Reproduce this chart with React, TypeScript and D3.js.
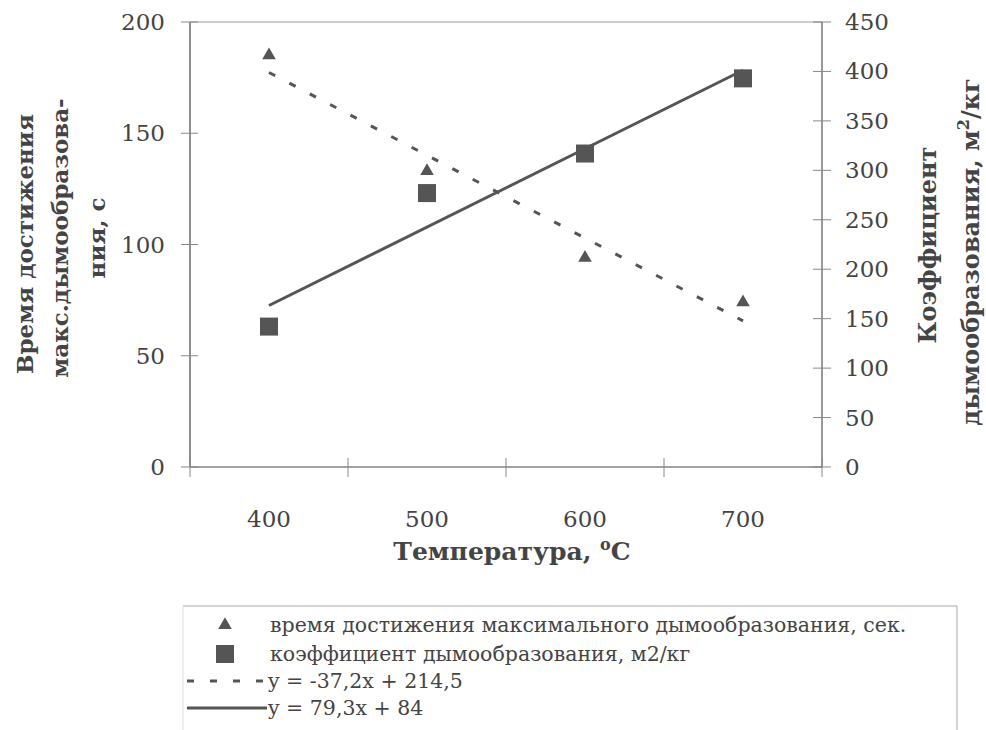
import React from "react";
import * as d3 from "d3";

const categories = ["400", "500", "600", "700"];
const timeValues = [185, 133, 94, 74];
const coefValues = [142, 277, 317, 393];
const leftTicks = [0, 50, 100, 150, 200];
const rightTicks = [0, 50, 100, 150, 200, 250, 300, 350, 400, 450];
const timeTrend = { slope: -37.2, intercept: 214.5 };
const coefTrend = { slope: 79.3, intercept: 84 };
const legendLabels = [
  "время достижения максимального дымообразования, сек.",
  "коэффициент дымообразования, м2/кг",
  "y = -37,2x + 214,5",
  "y = 79,3x + 84",
];

const W = 986;
const H = 730;
const plot = { left: 190, right: 822, top: 22, bottom: 467 };
const FONT = "'DejaVu Serif', 'Liberation Serif', serif";
const MARK = "#555";
const TXT = "#444";

export default function App() {
  const x = d3.scaleBand<string>().domain(categories).range([plot.left, plot.right]).padding(0);
  const yL = d3.scaleLinear().domain([0, 200]).range([plot.bottom, plot.top]);
  const yR = d3.scaleLinear().domain([0, 450]).range([plot.bottom, plot.top]);
  const cx = (c: string) => (x(c) as number) + x.bandwidth() / 2;

  const line = d3.line<[number, number]>().x((d) => d[0]).y((d) => d[1]);
  const timeTrendPts: [number, number][] = [
    [cx(categories[0]), yL(timeTrend.slope * 1 + timeTrend.intercept)],
    [cx(categories[3]), yL(timeTrend.slope * 4 + timeTrend.intercept)],
  ];
  const coefTrendPts: [number, number][] = [
    [cx(categories[0]), yR(coefTrend.slope * 1 + coefTrend.intercept)],
    [cx(categories[3]), yR(coefTrend.slope * 4 + coefTrend.intercept)],
  ];
  const tri = d3.symbol().type(d3.symbolTriangle).size(80)();
  const boundaries = [...categories.map((c) => x(c) as number), plot.right];

  const lg = { x: 183, y: 606, right: 957 };
  const rowY = [625, 654, 681, 708];
  const ff = { fontFamily: FONT };

  return (
    <svg width={W} height={H} style={{ position: "absolute", left: 0, top: 0, background: "#fff", fontFamily: FONT }}>
      <rect x={0} y={0} width={W} height={H} fill="#fff" />
      <line x1={plot.left} x2={plot.right} y1={plot.top} y2={plot.top} stroke="#999" strokeWidth={1} />
      <line x1={plot.left} x2={plot.left} y1={plot.top} y2={plot.bottom} stroke="#444" strokeWidth={1.2} />
      <line x1={plot.right} x2={plot.right} y1={plot.top} y2={plot.bottom} stroke="#555" strokeWidth={1.2} />
      <line x1={plot.left} x2={plot.right} y1={plot.bottom} y2={plot.bottom} stroke="#444" strokeWidth={1.2} />
      {leftTicks.map((t) => (
        <g key={"l" + t}>
          <line x1={plot.left - 9} x2={plot.left + 8} y1={yL(t)} y2={yL(t)} stroke="#888" strokeWidth={1} />
          <text style={ff} x={165} y={yL(t)} dy="0.35em" textAnchor="end" fontSize={23} fill={TXT}>{t}</text>
        </g>
      ))}
      {rightTicks.map((t) => (
        <g key={"r" + t}>
          <line x1={plot.right - 9} x2={plot.right + 9} y1={yR(t)} y2={yR(t)} stroke="#888" strokeWidth={1} />
          <text style={ff} x={845} y={yR(t)} dy="0.35em" textAnchor="start" fontSize={23} fill={TXT}>{t}</text>
        </g>
      ))}
      {boundaries.map((b, i) => (
        <line key={"x" + i} x1={b} x2={b} y1={plot.bottom - 9} y2={plot.bottom + 10} stroke="#888" strokeWidth={1} />
      ))}
      {categories.map((c) => (
        <text style={ff} key={"xl" + c} x={cx(c)} y={527} textAnchor="middle" fontSize={23} fill={TXT}>{c}</text>
      ))}
      <path d={line(timeTrendPts) || ""} stroke={MARK} strokeWidth={3} strokeDasharray="7,16" fill="none" />
      <path d={line(coefTrendPts) || ""} stroke={MARK} strokeWidth={3} fill="none" />
      {categories.map((c, i) => (
        <path key={"t" + c} d={tri || ""} transform={`translate(${cx(c)},${yL(timeValues[i])})`} fill={MARK} />
      ))}
      {categories.map((c, i) => (
        <rect key={"s" + c} x={cx(c) - 9} y={yR(coefValues[i]) - 9} width={18} height={18} fill={MARK} />
      ))}
      <g fontWeight="bold" fill={TXT} textAnchor="middle" style={ff}>
        <text style={ff} fontSize={23} transform="translate(33,244) rotate(-90)">Время достижения</text>
        <text style={ff} fontSize={23} transform="translate(68,238) rotate(-90)">макс.дымообразова-</text>
        <text style={ff} fontSize={23} transform="translate(105,238) rotate(-90)">ния, с</text>
        <text style={ff} fontSize={24} transform="translate(936,245) rotate(-90)">Коэффициент</text>
        <text style={ff} fontSize={24} transform="translate(979,252) rotate(-90)">
          дымообразования, м<tspan fontSize={16} dy={-10}>2</tspan><tspan dy={10}>/кг</tspan>
        </text>
        <text style={ff} fontSize={25} x={512} y={560}>
          Температура, <tspan fontSize={16} dy={-10}>o</tspan><tspan dy={10}>C</tspan>
        </text>
      </g>
      <line x1={lg.x} x2={lg.right} y1={lg.y} y2={lg.y} stroke="#aaa" strokeWidth={1} />
      <line x1={lg.right} x2={lg.right} y1={lg.y} y2={H} stroke="#aaa" strokeWidth={1} />
      <line x1={lg.x} x2={lg.x} y1={lg.y} y2={H} stroke="#ddd" strokeWidth={1} />
      <path d={tri || ""} transform={`translate(225,${rowY[0]})`} fill={MARK} />
      <rect x={216} y={rowY[1] - 9} width={18} height={18} fill={MARK} />
      <line x1={187} x2={267} y1={rowY[2]} y2={rowY[2]} stroke={MARK} strokeWidth={3} strokeDasharray="7,16" />
      <line x1={187} x2={267} y1={rowY[3]} y2={rowY[3]} stroke={MARK} strokeWidth={3} />
      {legendLabels.map((t, i) => (
        <text style={ff} key={"lg" + i} x={i < 2 ? 270 : 268} y={rowY[i]} dy="0.35em" fontSize={20.5} fill={TXT}>{t}</text>
      ))}
    </svg>
  );
}
